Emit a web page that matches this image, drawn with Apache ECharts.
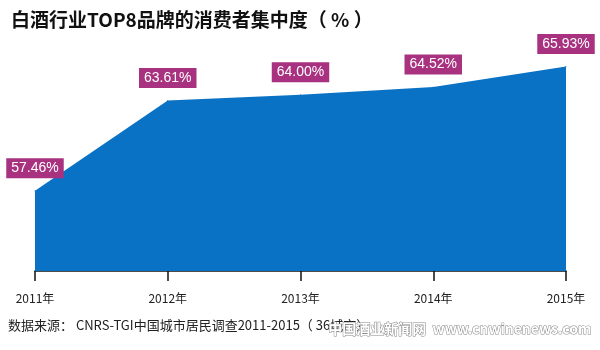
<!DOCTYPE html>
<html><head><meta charset="utf-8">
<script src="https://cdn.jsdelivr.net/npm/echarts@6/dist/echarts.min.js"></script>
<style>html,body{margin:0;padding:0;background:#fff}#c{width:600px;height:350px}</style>
</head><body><div id="c"></div>
<script>
var categories = ['2011年','2012年','2013年','2014年','2015年'];
var values = [57.46, 63.61, 64.00, 64.52, 65.93];
var titleText = '白酒行业TOP8品牌的消费者集中度（ % ）';
var sourceText = '数据来源： CNRS-TGI中国城市居民调查2011-2015（ 36城市）';
var chart = echarts.init(document.getElementById('c'));
chart.setOption({
  animation:false,
  title:{text:titleText,left:6,top:5,textStyle:{fontSize:19,fontWeight:'bold',color:'#111',fontFamily:'Noto Sans CJK SC'}},
  grid:{left:35,right:34,top:36,bottom:79},
  xAxis:{type:'category',data:categories,boundaryGap:false,
    axisLine:{lineStyle:{color:'#111',width:1.5}},
    axisTick:{show:true,length:10,lineStyle:{color:'#111',width:1.5}},
    axisLabel:{color:'#222',fontSize:12,margin:21,fontFamily:'Noto Sans CJK SC',
      showMinLabel:true, showMaxLabel:true}},
  yAxis:{type:'value',min:52,max:68,show:false,splitLine:{show:false}},
  series:[{type:'line',data:values,smooth:false,symbol:'circle',symbolSize:1,showSymbol:true,
    itemStyle:{color:'#0a72c4'},
    lineStyle:{width:0,color:'#0a72c4'},
    areaStyle:{color:'#0a72c4',opacity:1},
    label:{show:true,position:'top',distance:12,formatter:function(p){return p.value.toFixed(2)+'%';},
      backgroundColor:'#a8327f',color:'#fff',fontSize:14,padding:[3,5,3,5],fontFamily:'Liberation Sans'}}],
  graphic:[
    {type:'text',left:8,top:319,style:{text:sourceText,fontSize:13,fill:'#222',fontFamily:'Noto Sans CJK SC'}},
    {type:'text',right:8,top:321,style:{text:'中国酒业新闻网  www.cnwinenews.com',fontSize:14,fill:'#fff',stroke:'#888',lineWidth:1,fontFamily:'Noto Sans CJK SC',fontWeight:'bold'}}
  ]
});
</script></body></html>
